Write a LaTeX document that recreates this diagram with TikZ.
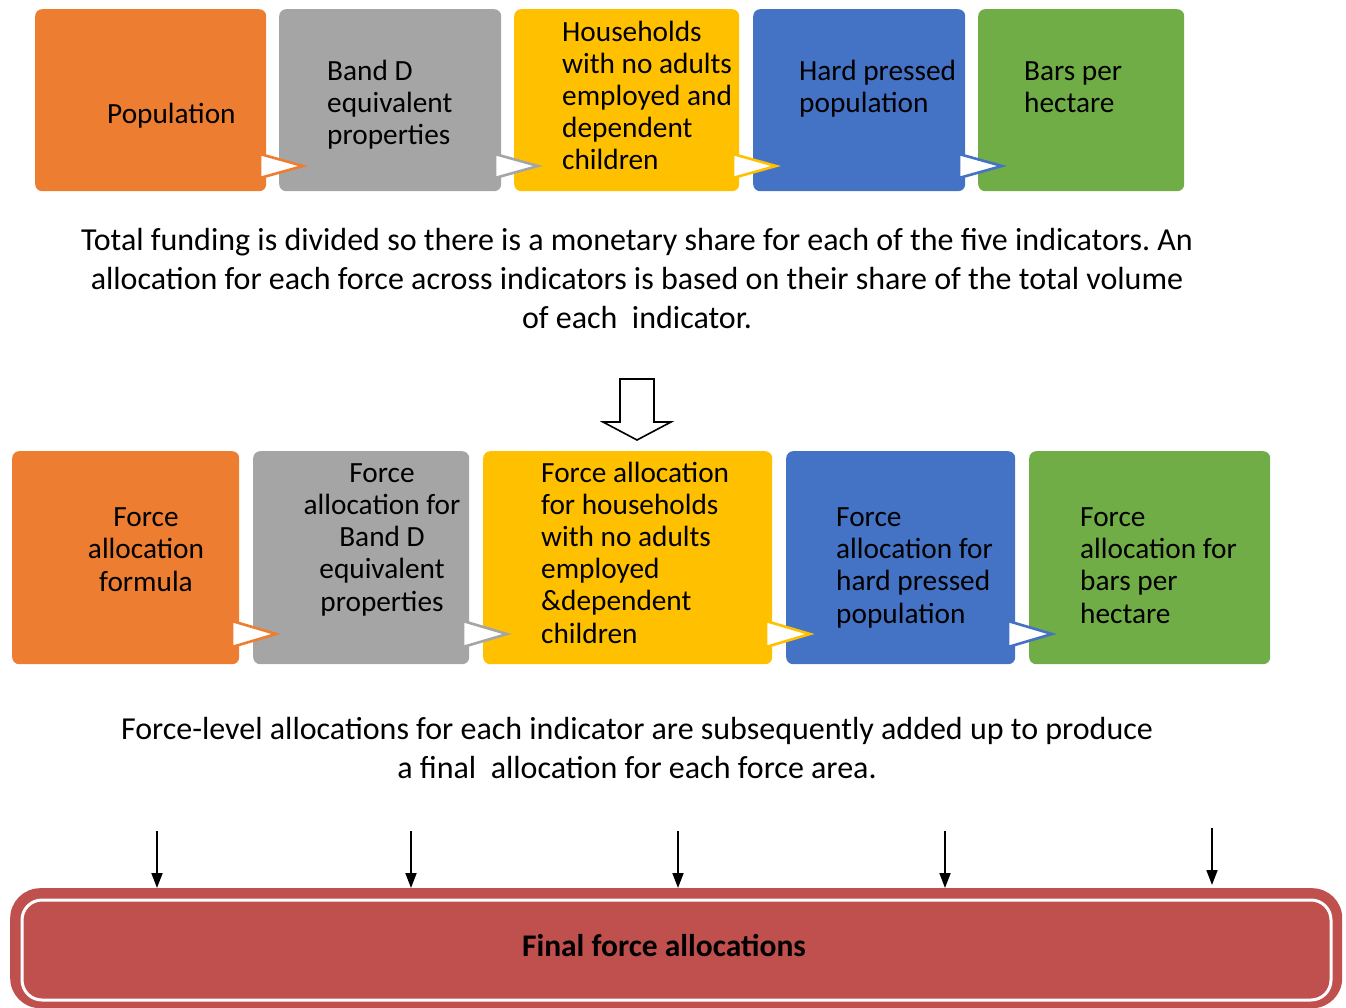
\documentclass[tikz,border=0pt]{standalone}
\usepackage{fontspec}
\setmainfont{Carlito}
\frenchspacing
\usetikzlibrary{arrows.meta}
\definecolor{corg}{HTML}{ED7D31}
\definecolor{cgry}{HTML}{A5A5A5}
\definecolor{cyel}{HTML}{FFC000}
\definecolor{cblu}{HTML}{4472C4}
\definecolor{cgrn}{HTML}{70AD47}
\definecolor{cred}{HTML}{C0504D}
\tikzset{
  box/.style={draw=none, rounded corners=7pt, anchor=north west, inner sep=0pt},
  boxtxt/.style={inner sep=0pt, font=\fontsize{29.3}{32.2}\selectfont},
  capt/.style={inner sep=0pt, align=center, font=\fontsize{32}{39}\selectfont\frenchspacing},
  chev/.style={fill=white, line width=2.6pt, line join=miter},
  downarr/.style={line width=1.8pt, -{Triangle[length=15pt,width=11pt]}}
}
\begin{document}
\begin{tikzpicture}[x=1pt,y=-1pt]
\useasboundingbox (0,0) rectangle (1346,1008);
% row 1
\node[box, fill=corg, minimum width=231, minimum height=182] (a1) at (35,9) {};
\node[box, fill=cgry, minimum width=222, minimum height=182] (a2) at (279,9) {};
\node[box, fill=cyel, minimum width=225, minimum height=182] (a3) at (514,9) {};
\node[box, fill=cblu, minimum width=212, minimum height=182] (a4) at (753,9) {};
\node[box, fill=cgrn, minimum width=206, minimum height=182] (a5) at (978,9) {};
\draw[chev, draw=corg] (260,154) -- (303,166) -- (260,178) -- cycle;
\draw[chev, draw=cgry] (495,154) -- (538,166) -- (495,178) -- cycle;
\draw[chev, draw=cyel] (733,154) -- (776,166) -- (733,178) -- cycle;
\draw[chev, draw=cblu] (959,154) -- (1002,166) -- (959,178) -- cycle;
\node[boxtxt, anchor=base west] (t1) at (107,124) {Population};
\node[boxtxt, anchor=base west, align=left] (t2) at (327,145) {Band D\\equivalent\\properties};
\node[boxtxt, anchor=base west, align=left] (t3) at (562,170) {Households\\with no adults\\employed and\\dependent\\children};
\node[boxtxt, anchor=base west, align=left] (t4) at (799,113) {Hard pressed\\population};
\node[boxtxt, anchor=base west, align=left] (t5) at (1024,113) {Bars per\\hectare};
% caption 1
\node[capt, anchor=base] (c1) at (637,328) {Total funding is divided so there is a monetary share for each of the five indicators. An\\allocation for each force across indicators is based on their share of the total volume\\of each~ indicator.};
% hollow arrow
\draw[line width=1.6pt, fill=white, line join=miter] (620,379) -- (654,379) -- (654,422) -- (671,422) -- (637,440) -- (603,422) -- (620,422) -- cycle;
% row 2
\node[box, fill=corg, minimum width=227, minimum height=213] (b1) at (12,451) {};
\node[box, fill=cgry, minimum width=216, minimum height=213] (b2) at (253,451) {};
\node[box, fill=cyel, minimum width=289, minimum height=213] (b3) at (483,451) {};
\node[box, fill=cblu, minimum width=229, minimum height=213] (b4) at (786,451) {};
\node[box, fill=cgrn, minimum width=241, minimum height=213] (b5) at (1029,451) {};
\draw[chev, draw=corg] (232,621) -- (276,634) -- (232,647) -- cycle;
\draw[chev, draw=cgry] (463,621) -- (507,634) -- (463,647) -- cycle;
\draw[chev, draw=cyel] (766,621) -- (810,634) -- (766,647) -- cycle;
\draw[chev, draw=cblu] (1008,621) -- (1052,634) -- (1008,647) -- cycle;
\node[boxtxt, anchor=base, align=center] (u1) at (146,591) {Force\\allocation\\formula};
\node[boxtxt, anchor=base, align=center] (u2) at (382,611) {Force\\allocation for\\Band D\\equivalent\\properties};
\node[boxtxt, anchor=base west, align=left] (u3) at (541,643) {Force allocation\\for households\\with no adults\\employed\\\&dependent\\children};
\node[boxtxt, anchor=base west, align=left] (u4) at (836,623) {Force\\allocation for\\hard pressed\\population};
\node[boxtxt, anchor=base west, align=left] (u5) at (1080,623) {Force\\allocation for\\bars per\\hectare};
% caption 2
\node[capt, anchor=base] (c2) at (637,778) {Force-level allocations for each indicator are subsequently added up to produce\\a final~ allocation for each force area.};
% final box
\node[draw=none, fill=cred, rounded corners=30pt, minimum width=1332, minimum height=120, anchor=north west, inner sep=0pt] (fin) at (10,888) {};
\draw[white, line width=3pt, rounded corners=20pt] (22,900) rectangle (1331,1000);
\node[inner sep=0pt, font=\fontsize{31.5}{34}\selectfont\bfseries] (ft) at (664,946) {Final force allocations};
% down arrows
\coordinate (d1) at (157,831);
\coordinate (d2) at (411,831);
\coordinate (d3) at (678,831);
\coordinate (d4) at (945,831);
\coordinate (d5) at (1212,828);
\draw[downarr] (d1) -- (d1 |- fin.north);
\draw[downarr] (d2) -- (d2 |- fin.north);
\draw[downarr] (d3) -- (d3 |- fin.north);
\draw[downarr] (d4) -- (d4 |- fin.north);
\draw[downarr] (d5) -- ([yshift=3pt]d5 |- fin.north);
\end{tikzpicture}
\end{document}
